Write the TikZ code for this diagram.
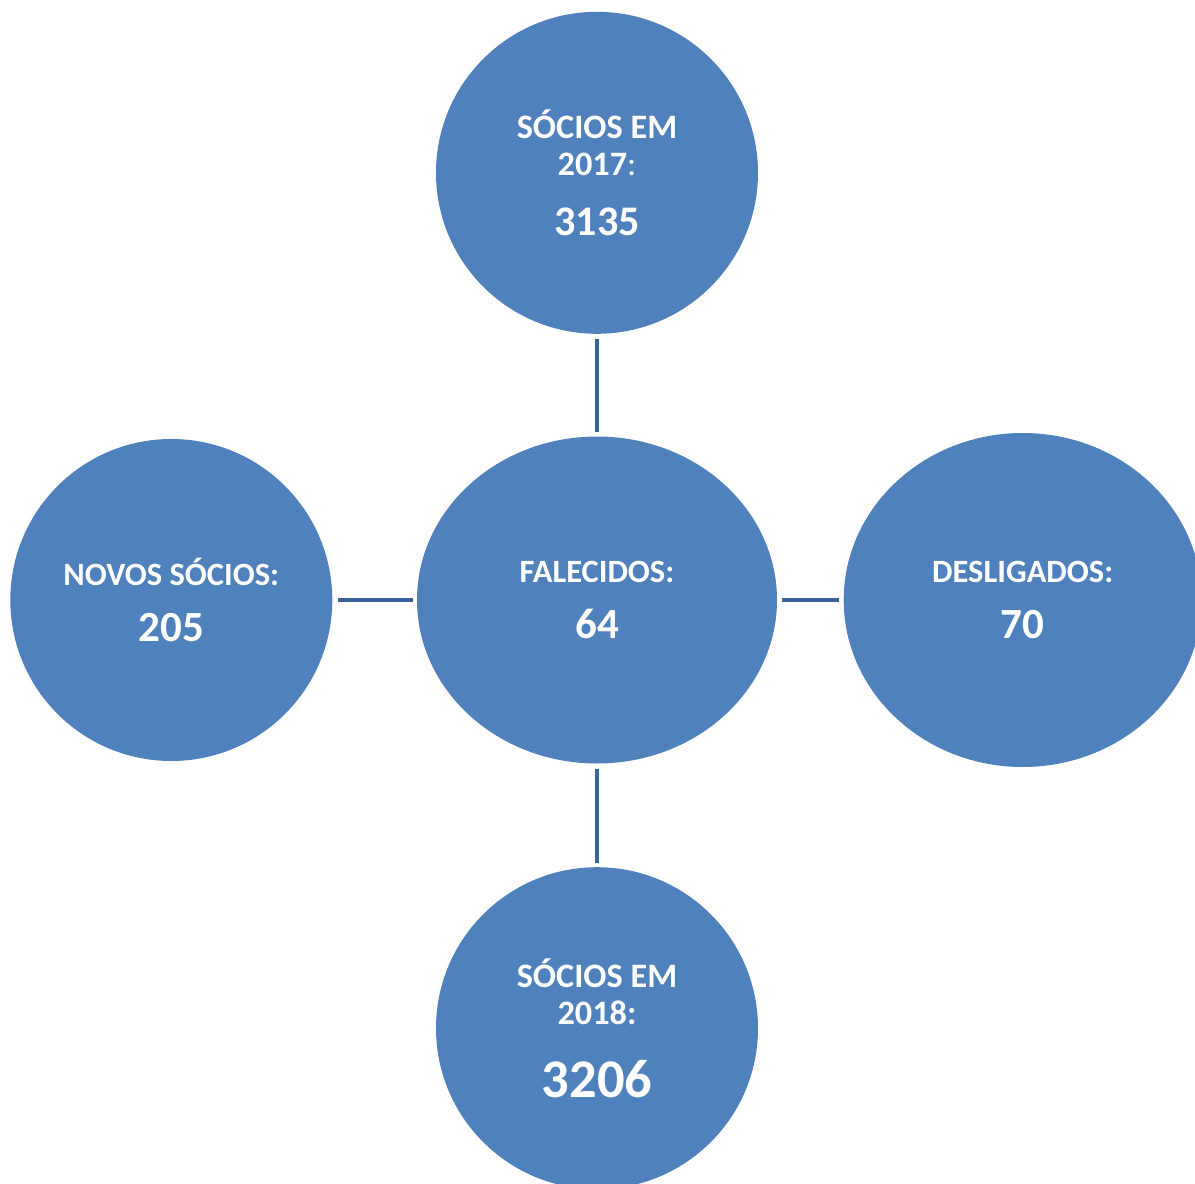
\documentclass[tikz,border=0pt]{standalone}
\usepackage{fontspec}
\setmainfont{Carlito}
\usetikzlibrary{positioning, shapes.geometric}

\definecolor{azulbolha}{HTML}{4F81BD}
\definecolor{azultraco}{HTML}{3B6496}
\newcommand{\numero}[1]{{\fontsize{24.5}{29}\selectfont #1}}

\begin{document}
\begin{tikzpicture}[node distance=2cm,
    bolha/.style={fill=azulbolha, text=white, align=center, inner sep=0pt,
        font=\bfseries\fontsize{18.5}{21}\selectfont},
    circulo/.style={bolha, circle, minimum size=6.44cm},
    oval/.style 2 args={bolha, ellipse, minimum width=#1, minimum height=#2},
    ligacao/.style={draw=azultraco, line width=2.4pt, shorten <=0.1cm, shorten >=0.08cm}]
    \useasboundingbox (-11.94,-11.66) rectangle (11.96,12.0);

    % Nodos: o centro e os quatro em volta
    \node (falecidos) [oval={7.2cm}{6.54cm}] at (0,0) {FALECIDOS:\\[11pt]\numero{64}};
    \node (socios17) [circulo, above=2.04cm of falecidos, font=\bfseries\fontsize{19.5}{21}\selectfont]
        {S\'OCIOS EM\\2017{\mdseries:}\\[13pt]{\fontsize{24}{29}\selectfont 3135}};
    \node (novos) [circulo, left=1.68cm of falecidos] {NOVOS S\'OCIOS:\\[11pt]\numero{205}};
    \node (desligados) [oval={7.16cm}{6.68cm}, right=1.32cm of falecidos] {DESLIGADOS:\\[11pt]\numero{70}};
    \node (socios18) [circulo, below=2.06cm of falecidos, font=\bfseries\fontsize{19.5}{21}\selectfont]
        {S\'OCIOS EM\\2018:\\[19pt]{\fontsize{31}{36}\selectfont 3206}};

    % Ligacoes
    \draw[ligacao] (socios17) -- (falecidos);
    \draw[ligacao] (novos) -- (falecidos);
    \draw[ligacao] (falecidos) -- (desligados);
    \draw[ligacao] (falecidos) -- (socios18);
\end{tikzpicture}
\end{document}
